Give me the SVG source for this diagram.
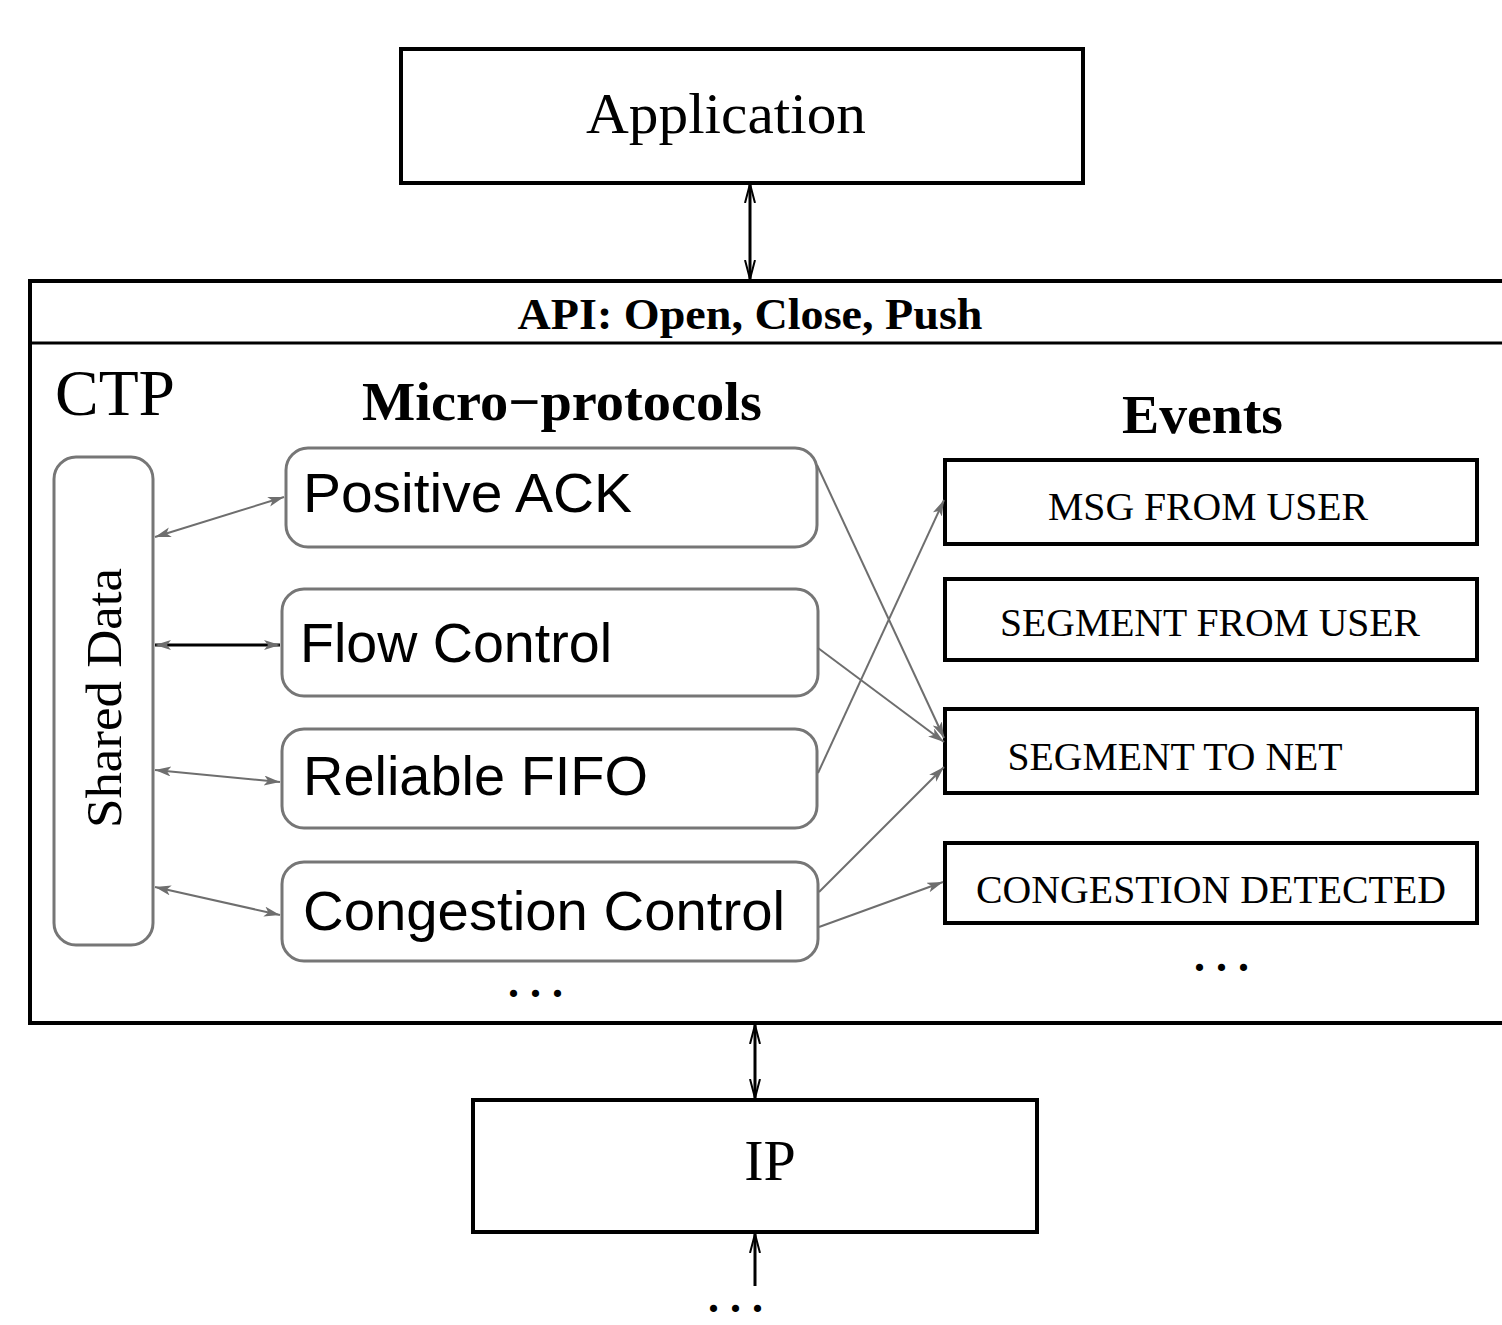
<svg xmlns="http://www.w3.org/2000/svg" width="1502" height="1325" viewBox="0 0 1502 1325">
  <style>
    .box { fill: #ffffff; stroke: #000000; stroke-width: 4; }
    .mp { fill: #ffffff; stroke: #767676; stroke-width: 3; }
    .serif { font-family: "Liberation Serif", "Times New Roman", serif; fill: #000000; }
    .sans { font-family: "Liberation Sans", Arial, sans-serif; fill: #000000; }
    .bold { font-weight: bold; }
    .ev { font-size: 40px; }
    .dots { font-size: 44px; font-weight: bold; letter-spacing: 11px; }
    .gray { stroke: #6e6e6e; stroke-width: 2; fill: none; }
    .blk { stroke: #000000; stroke-width: 3; fill: none; }
  </style>
  <defs>
    <marker id="ag" markerUnits="userSpaceOnUse" markerWidth="18" markerHeight="12" refX="16" refY="5" orient="auto-start-reverse">
      <path d="M0,0 L16,5 L0,10 L4,5 z" fill="#6e6e6e"/>
    </marker>
    <marker id="av" markerUnits="userSpaceOnUse" markerWidth="22" markerHeight="14" refX="19" refY="6" orient="auto-start-reverse">
      <path d="M0,1 L19,6 L0,11" fill="none" stroke="#000000" stroke-width="2"/>
    </marker>
  </defs>

  <rect width="1502" height="1325" fill="#ffffff"/>

  <!-- Application layer -->
  <g id="application">
    <rect class="box" x="401" y="49" width="682" height="134" stroke-width="3"/>
    <text class="serif" x="726" y="133" font-size="58" text-anchor="middle" textLength="280" lengthAdjust="spacingAndGlyphs">Application</text>
  </g>

  <!-- CTP container with API bar -->
  <g id="ctp">
    <path d="M30,281 H1502 M30,279 V1024 M28,1023 H1502" fill="none" stroke="#000000" stroke-width="4"/>
    <path d="M30,343 H1502" fill="none" stroke="#000000" stroke-width="3"/>
    <text class="serif bold" x="750" y="329" font-size="44" text-anchor="middle" textLength="465" lengthAdjust="spacingAndGlyphs">API: Open, Close, Push</text>
    <text class="serif" x="55" y="415" font-size="66" textLength="120" lengthAdjust="spacingAndGlyphs">CTP</text>
    <text class="serif bold" x="362" y="420" font-size="54" textLength="400" lengthAdjust="spacingAndGlyphs">Micro−protocols</text>
    <text class="serif bold" x="1122" y="433" font-size="55" textLength="161" lengthAdjust="spacingAndGlyphs">Events</text>
    <text class="serif dots" x="508" y="997">...</text>
    <text class="serif dots" x="1194" y="971">...</text>
  </g>

  <!-- Shared data -->
  <g id="shared-data">
    <rect class="mp" x="54" y="457" width="99" height="488" rx="22" ry="22"/>
    <text class="serif" transform="translate(121,698) rotate(-90)" font-size="50" text-anchor="middle" textLength="260" lengthAdjust="spacingAndGlyphs">Shared Data</text>
  </g>

  <!-- Micro-protocols -->
  <g id="positive-ack">
    <rect class="mp" x="286" y="448" width="531" height="99" rx="22" ry="22"/>
    <text class="sans" x="303" y="512" font-size="55" textLength="329" lengthAdjust="spacingAndGlyphs">Positive ACK</text>
  </g>
  <g id="flow-control">
    <rect class="mp" x="282" y="589" width="536" height="107" rx="22" ry="22"/>
    <text class="sans" x="300" y="662" font-size="55" textLength="312" lengthAdjust="spacingAndGlyphs">Flow Control</text>
  </g>
  <g id="reliable-fifo">
    <rect class="mp" x="282" y="729" width="535" height="99" rx="22" ry="22"/>
    <text class="sans" x="303" y="795" font-size="55" textLength="345" lengthAdjust="spacingAndGlyphs">Reliable FIFO</text>
  </g>
  <g id="congestion-control">
    <rect class="mp" x="282" y="862" width="536" height="99" rx="22" ry="22"/>
    <text class="sans" x="303" y="930" font-size="55" textLength="482" lengthAdjust="spacingAndGlyphs">Congestion Control</text>
  </g>

  <!-- Events -->
  <g id="msg-from-user">
    <rect class="box" x="945" y="460" width="532" height="84"/>
    <text class="serif ev" x="1208" y="520" text-anchor="middle" textLength="320" lengthAdjust="spacingAndGlyphs">MSG FROM USER</text>
  </g>
  <g id="segment-from-user">
    <rect class="box" x="945" y="579" width="532" height="81"/>
    <text class="serif ev" x="1210" y="636" text-anchor="middle" textLength="420" lengthAdjust="spacingAndGlyphs">SEGMENT FROM USER</text>
  </g>
  <g id="segment-to-net">
    <rect class="box" x="945" y="709" width="532" height="84"/>
    <text class="serif ev" x="1175" y="770" text-anchor="middle" textLength="335" lengthAdjust="spacingAndGlyphs">SEGMENT TO NET</text>
  </g>
  <g id="congestion-detected">
    <rect class="box" x="945" y="843" width="532" height="80"/>
    <text class="serif ev" x="1211" y="903" text-anchor="middle" textLength="470" lengthAdjust="spacingAndGlyphs">CONGESTION DETECTED</text>
  </g>

  <!-- IP layer -->
  <g id="ip">
    <rect class="box" x="473" y="1100" width="564" height="132"/>
    <text class="serif" x="770" y="1180" font-size="58" text-anchor="middle">IP</text>
    <text class="serif dots" x="708" y="1312">...</text>
  </g>

  <!-- Connectors -->
  <g id="connectors">
    <line class="blk" x1="750" y1="184" x2="750" y2="279" marker-start="url(#av)" marker-end="url(#av)"/>
    <line class="blk" x1="755" y1="1025" x2="755" y2="1098" marker-start="url(#av)" marker-end="url(#av)"/>
    <line class="blk" x1="755" y1="1286" x2="755" y2="1234" marker-end="url(#av)"/>

    <line class="gray" x1="155" y1="537" x2="284" y2="497" marker-start="url(#ag)" marker-end="url(#ag)"/>
    <line class="blk" x1="155" y1="645" x2="280" y2="645" stroke-width="2.5" marker-start="url(#ag)" marker-end="url(#ag)"/>
    <line class="gray" x1="155" y1="770" x2="280" y2="782" marker-start="url(#ag)" marker-end="url(#ag)"/>
    <line class="gray" x1="155" y1="887" x2="280" y2="915" marker-start="url(#ag)" marker-end="url(#ag)"/>

    <line class="gray" x1="817" y1="465" x2="944" y2="738" marker-end="url(#ag)"/>
    <line class="gray" x1="818" y1="648" x2="944" y2="742" marker-end="url(#ag)"/>
    <line class="gray" x1="818" y1="773" x2="944" y2="500" marker-end="url(#ag)"/>
    <line class="gray" x1="819" y1="892" x2="944" y2="767" marker-end="url(#ag)"/>
    <line class="gray" x1="819" y1="927" x2="943" y2="882" marker-end="url(#ag)"/>
  </g>
</svg>
